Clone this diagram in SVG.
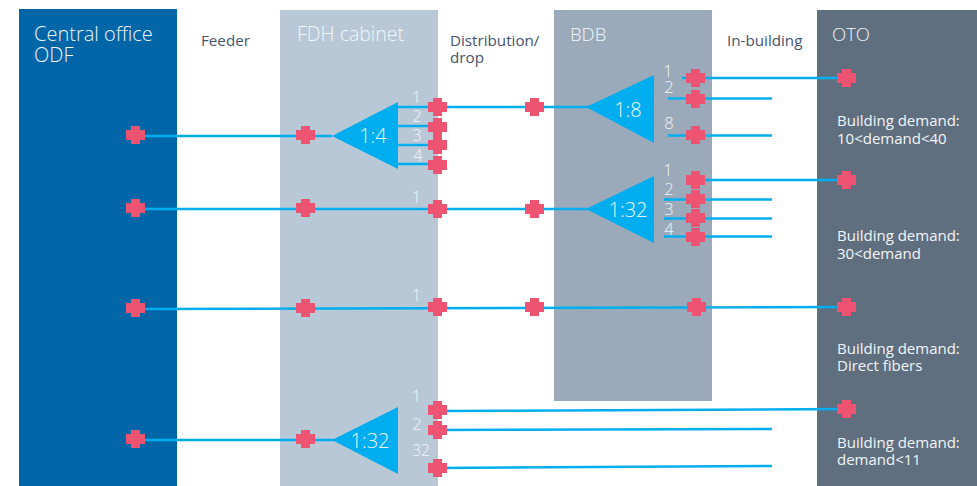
<svg xmlns="http://www.w3.org/2000/svg" width="977" height="486" viewBox="0 0 977 486">
<style>
text{font-family:"Open Sans","Noto Sans","Liberation Sans",sans-serif;font-weight:300}
.w{fill:#f2f5f8}
.h{font-size:20px}
.d{fill:#44536e;font-size:15.2px;font-weight:400}
.n{font-size:16.5px;fill:#f2f5f8;text-anchor:middle}
.r{font-size:20px;fill:#eaf6fd;text-anchor:middle}
.b{font-size:15px;fill:#f2f5f8;font-weight:400}
.l{stroke:#00aeef;stroke-width:2.5;fill:none}
.s{fill:#00aeef}
</style>
<defs><path id="x" d="M-5-9H4V-5H9V5H4V9H-5V5H-10V-5H-5Z" fill="#ee5472" shape-rendering="crispEdges"/></defs>
<g id="central-office"><rect x="19" y="9" width="158" height="477" fill="#0066a8"/><text class="w h"><tspan x="34" y="41">Central office</tspan><tspan x="34" y="62">ODF</tspan></text></g>
<g id="feeder"><text class="d" x="201" y="46">Feeder</text></g>
<g id="fdh-cabinet"><rect x="280" y="10" width="158" height="476" fill="#b9c8d7"/><text class="w" x="297" y="41" font-size="19.500">FDH cabinet</text></g>
<g id="distribution"><text class="d"><tspan x="450" y="46">Distribution/</tspan><tspan x="450" y="63">drop</tspan></text></g>
<g id="bdb"><rect x="554" y="10" width="158" height="391" fill="#9aaabb"/><text class="w" x="570" y="41" font-size="18.500">BDB</text></g>
<g id="in-building"><text class="d" x="727" y="46">In-building</text></g>
<g id="oto"><rect x="817" y="10" width="160" height="476" fill="#5f6f80"/><text class="w" x="832" y="41" font-size="18.500">OTO</text>
<text class="b"><tspan x="837" y="126">Building demand:</tspan><tspan x="837" y="144">10&lt;demand&lt;40</tspan></text>
<text class="b"><tspan x="837" y="241">Building demand:</tspan><tspan x="837" y="259">30&lt;demand</tspan></text>
<text class="b"><tspan x="837" y="354">Building demand:</tspan><tspan x="837" y="371">Direct fibers</tspan></text>
<text class="b"><tspan x="837" y="448">Building demand:</tspan><tspan x="837" y="465">demand&lt;11</tspan></text></g>
<g id="connectors">
<path class="l" d="M136 136H332M398 107H590M398 126H438M398 145H438M398 164H438"/>
<path class="l" d="M136 209H588M136 309L847 307M136 440H334"/>
<path class="l" d="M682 78H847M668 98.500H772M668 135.500H772M696 180H847M664 199.500H772M664 218.500H772M664 236.500H772"/>
<path class="l" d="M438 411L847 409M438 430L772 429M438 468L772 466"/>
</g>
<g id="splitter-1-4"><path class="s" d="M332 136L398 102V169Z"/><text class="r" x="373" y="143">1:4</text>
<text class="n" x="416.500" y="103">1</text><text class="n" x="417" y="122">2</text><text class="n" x="417" y="141">3</text><text class="n" x="418" y="161">4</text></g>
<g id="splitter-1-8"><path class="s" d="M586 107L654 75V143Z"/><text class="r" x="628" y="117">1:8</text>
<text class="n" x="668" y="77">1</text><text class="n" x="669" y="93">2</text><text class="n" x="669" y="129">8</text></g>
<g id="splitter-1-32a"><path class="s" d="M586 209L654 176V243Z"/><text class="r" x="628" y="217">1:32</text>
<text class="n" x="668" y="176">1</text><text class="n" x="669" y="195">2</text><text class="n" x="669" y="215">3</text><text class="n" x="669" y="235">4</text></g>
<g id="splitter-1-32b"><path class="s" d="M332 440L398 407V474Z"/><text class="r" x="370" y="448">1:32</text>
<text class="n" x="416.500" y="402">1</text><text class="n" x="417" y="430">2</text><text class="n" x="421" y="456" style="font-size:15.500px">32</text></g>
<g id="row2-label"><text class="n" x="416.500" y="203">1</text></g>
<g id="row3-label"><text class="n" x="416.500" y="301">1</text></g>
<g id="connection-points">
<use href="#x" x="136" y="135"/><use href="#x" x="306" y="135"/>
<use href="#x" x="438" y="107"/><use href="#x" x="438" y="127"/><use href="#x" x="438" y="145"/><use href="#x" x="438" y="165"/>
<use href="#x" x="535" y="107"/>
<use href="#x" x="696" y="78"/><use href="#x" x="696" y="99"/><use href="#x" x="696" y="135"/><use href="#x" x="847" y="78"/>
<use href="#x" x="136" y="208"/><use href="#x" x="306" y="208"/><use href="#x" x="438" y="209"/><use href="#x" x="535" y="209"/>
<use href="#x" x="696" y="180"/><use href="#x" x="696" y="199"/><use href="#x" x="696" y="218"/><use href="#x" x="696" y="237"/><use href="#x" x="847" y="180"/>
<use href="#x" x="136" y="308"/><use href="#x" x="306" y="308"/><use href="#x" x="438" y="307"/><use href="#x" x="535" y="307"/><use href="#x" x="697" y="307"/><use href="#x" x="847" y="307"/>
<use href="#x" x="136" y="439"/><use href="#x" x="306" y="439"/><use href="#x" x="438" y="410"/><use href="#x" x="438" y="430"/><use href="#x" x="438" y="468"/><use href="#x" x="847" y="409"/>
</g>
</svg>
